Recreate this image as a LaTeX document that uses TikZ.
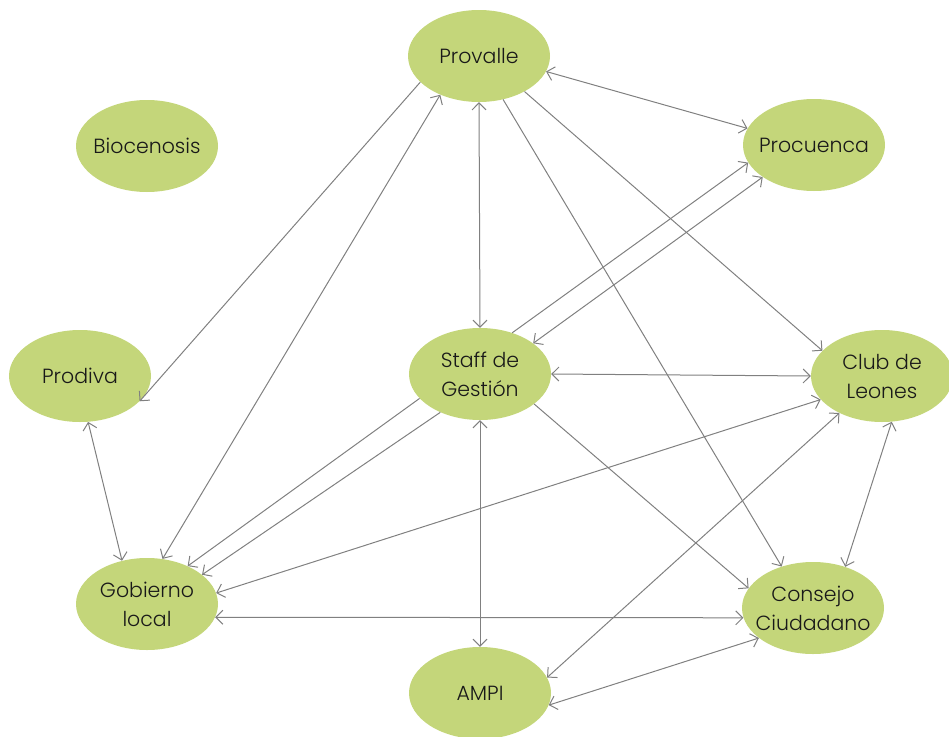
\documentclass[tikz,border=0pt]{standalone}
\usepackage{fontspec}
\setmainfont{Poppins Light}
\usetikzlibrary{shapes.geometric,arrows.meta}
\definecolor{nodegreen}{RGB}{196,214,122}
\definecolor{edgegray}{RGB}{128,128,128}
\definecolor{txtcol}{RGB}{25,25,25}
\begin{document}
\begin{tikzpicture}[x=1pt,y=-1pt,
  ent/.style={ellipse, fill=nodegreen, minimum width=142pt, minimum height=92pt,
    inner sep=-15pt, align=center, font=\fontsize{20.5}{29}\selectfont, text=txtcol},
  link/.style={draw=edgegray, line width=1pt},
  >={Straight Barb[length=7pt,width=14pt]}]
\useasboundingbox (0,0) rectangle (949,736);
\node[ent] (prov) at (479,56) {Provalle};
\node[ent] (bio) at (147,146) {Biocenosis};
\node[ent] (procu) at (814,145) {Procuenca};
\node[ent] (prodiva) at (80,376) {Prodiva};
\node[ent] (staff) at (480,374) {Staff de\\Gestión};
\node[ent] (club) at (882,376) {Club de\\Leones};
\node[ent] (gob) at (147,604) {Gobierno\\local};
\node[ent] (cons) at (813,608) {Consejo\\Ciudadano};
\node[ent] (ampi) at (480,693) {AMPI};

\draw[link,->] (prov.204) -- (prodiva.337);
\draw[link,<->] (gob.71) -- (prov.225);
\draw[link,<->] (prov.270) -- (staff.90);
\draw[link,<->] (prov.347) -- (procu.166);
\draw[link,->] (prov.322) -- (club.157);
\draw[link,->] (prov.299) -- (cons.127);
\draw[link,->] (staff.52) -- (procu.195);
\draw[link,<->] (staff.30) -- (procu.212);
\draw[link,<->] (staff.0) -- (club.180);
\draw[link,->] (staff.331) -- (cons.163);
\draw[link,<->] (staff.270) -- (ampi.90);
\draw[link,->] (staff.202) -- (gob.43);
\draw[link,->] (staff.224) -- (gob.28);
\draw[link,<->] (club.201) -- (gob.9);
\draw[link,<->] (club.221) -- (ampi.13);
\draw[link,<->] (club.282) -- (cons.52);
\draw[link,<->] (gob.349) -- (cons.188);
\draw[link,<->] (cons.209) -- (ampi.350);
\draw[link,<->] (prodiva.280) -- (gob.120);
\end{tikzpicture}
\end{document}
